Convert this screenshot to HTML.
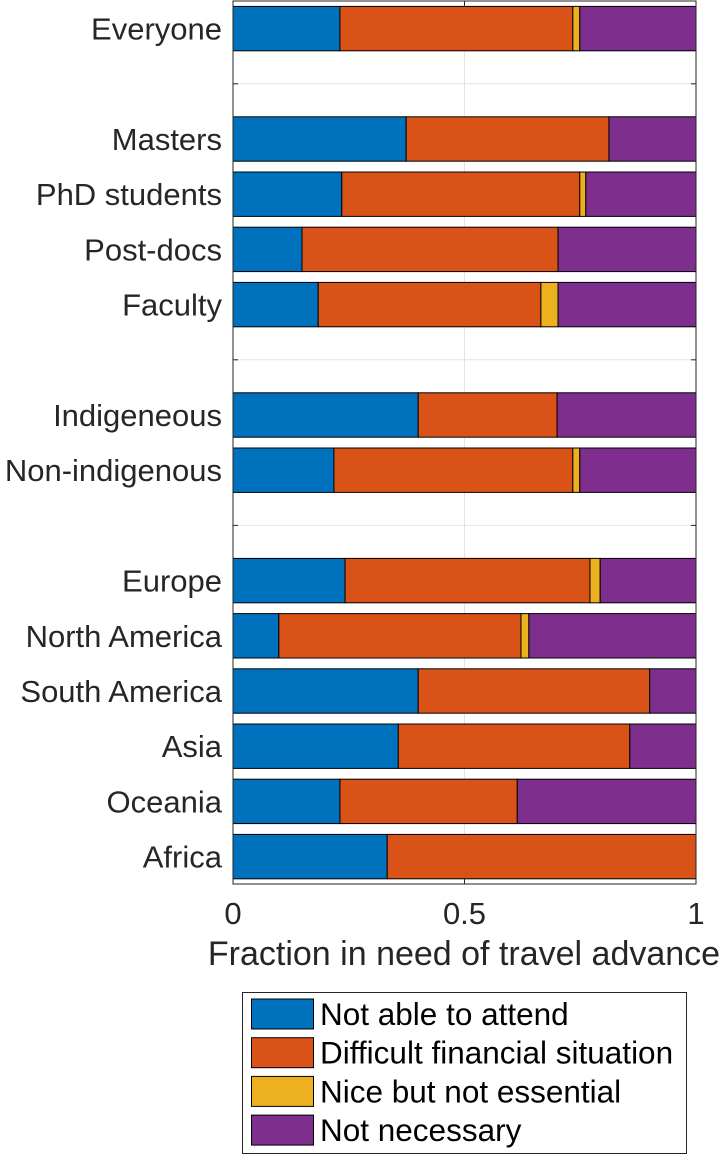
<!DOCTYPE html>
<html><head><meta charset="utf-8"><style>
html,body{margin:0;padding:0;background:#fff;}
svg text{font-family:"Liberation Sans",sans-serif;}
</style></head><body>
<svg id="s" width="728" height="1160" xmlns="http://www.w3.org/2000/svg"></svg>
<script>
const s=document.getElementById('s');
const L=233,R=696,T=1,B=884,W=R-L;
const C=['#0072BD','#D95319','#EDB120','#7E2F8E'];
const rows=[
['Everyone',[.231,.734,.749]],null,
['Masters',[.374,.812,.812]],
['PhD students',[.235,.749,.762]],
['Post-docs',[.149,.702,.702]],
['Faculty',[.184,.665,.702]],null,
['Indigeneous',[.4,.7,.7]],
['Non-indigenous',[.218,.734,.749]],null,
['Europe',[.242,.771,.793]],
['North America',[.099,.622,.639]],
['South America',[.4,.9,.9]],
['Asia',[.357,.857,.857]],
['Oceania',[.231,.614,.614]],
['Africa',[.333,1,1]]];
let h='';
h+=`<line x1="${L+W/2}" y1="${T}" x2="${L+W/2}" y2="${B}" stroke="#e3e3e3" stroke-width="1"/>`;
rows.forEach((r,i)=>{const y=28.6+i*55.2;h+=`<line x1="${L}" y1="${y}" x2="${R}" y2="${y}" stroke="#e3e3e3" stroke-width="1"/>`;});
rows.forEach((r,i)=>{
 const y=28.6+i*55.2;
 h+=`<line x1="${L}" y1="${y}" x2="${L+5}" y2="${y}" stroke="#262626"/><line x1="${R-5}" y1="${y}" x2="${R}" y2="${y}" stroke="#262626"/>`;
 if(!r)return;
 const b=[0,...r[1],1];
 for(let k=0;k<4;k++){const x0=L+b[k]*W,x1=L+b[k+1]*W;if(x1-x0<0.1)continue;
  h+=`<rect x="${x0}" y="${y-22.2}" width="${x1-x0}" height="44.4" fill="${C[k]}" stroke="#000" stroke-width="1"/>`;}
 h+=`<text x="222" y="${y+11}" font-size="31" text-anchor="end" fill="#262626">${r[0]}</text>`;
});
h+=`<rect x="${L}" y="${T}" width="${W}" height="${B-T}" fill="none" stroke="#262626" stroke-width="1"/>`;
[[0,'0'],[.5,'0.5'],[1,'1']].forEach(([v,t])=>{const x=L+v*W;
 h+=`<line x1="${x}" y1="${B}" x2="${x}" y2="${B-5}" stroke="#262626"/><line x1="${x}" y1="${T}" x2="${x}" y2="${T+5}" stroke="#262626"/>`;
 h+=`<text x="${x}" y="924" font-size="31" text-anchor="middle" fill="#262626">${t}</text>`;});
h+=`<text x="464" y="965" font-size="34" text-anchor="middle" fill="#262626">Fraction in need of travel advance</text>`;
h+=`<rect x="242.5" y="992.5" width="444" height="161" fill="#fff" stroke="#262626" stroke-width="1"/>`;
const lg=['Not able to attend','Difficult financial situation','Nice but not essential','Not necessary'];
lg.forEach((t,k)=>{const y=999+k*38.7;
 h+=`<rect x="251.5" y="${y}" width="62" height="30" fill="${C[k]}" stroke="#000" stroke-width="1"/>`;
 h+=`<text x="320" y="${y+26}" font-size="31.5" fill="#000">${t}</text>`;});
s.innerHTML=h;
</script>
</body></html>
